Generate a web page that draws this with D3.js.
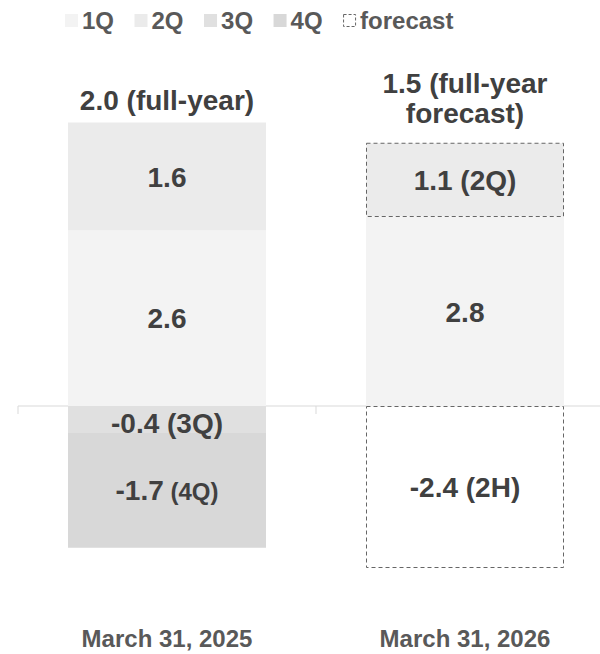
<!DOCTYPE html>
<html>
<head>
<meta charset="utf-8">
<script src="https://cdn.jsdelivr.net/npm/d3@7"></script>
<style>
  html, body { margin: 0; padding: 0; background: #ffffff; }
  svg { display: block; font-family: "Liberation Sans", Arial, sans-serif; font-weight: bold; }
</style>
</head>
<body>
<svg id="chart" width="600" height="654"></svg>
<script>
// Period-end categories
const categories = ["March 31, 2025", "March 31, 2026"];

// Quarterly contributions (positive quarters stack up, negative ones stack down)
const q1 = [2.6, 2.8];
const q2 = [1.6, 1.1];
const q3 = [-0.4, null];
const q4 = [-1.7, null];
const h2 = [null, -2.4];          // second-half forecast (3Q + 4Q combined)

// Which values are forecasts
const q2Forecast = [false, true];
const h2Forecast = [false, true];

// Full-year totals shown above each bar
const totals = [2.0, 1.5];
const totalNotes = ["full-year", "full-year forecast"];

// Legend entries
const legendItems = ["1Q", "2Q", "3Q", "4Q", "forecast"];

const colors = { "1Q": "#f3f3f3", "2Q": "#ebebeb", "3Q": "#e0e0e0", "4Q": "#d8d8d8", "2H": "#ffffff" };
const textDark = "#404040";
const textMid = "#595959";
const dashColor = "#666666";

const svg = d3.select("#chart");
const width = 600;

const x = d3.scaleBand()
  .domain(categories)
  .range([18, 614])
  .paddingInner(100 / 298)
  .paddingOuter(50 / 298);

const y = d3.scaleLinear().domain([-3, 5]).range([608.5, 68.5]);

// Build stacked segments per category
const segments = [];
categories.forEach((cat, i) => {
  let pos = 0, neg = 0;
  const add = (key, v, forecast) => {
    if (v == null) return;
    let y0, y1;
    if (v >= 0) { y0 = pos; y1 = pos + v; pos = y1; }
    else { y0 = neg; y1 = neg + v; neg = y1; }
    segments.push({ cat, key, value: v, y0, y1, forecast });
  };
  add("1Q", q1[i], false);
  add("2Q", q2[i], q2Forecast[i]);
  add("3Q", q3[i], false);
  add("4Q", q4[i], false);
  add("2H", h2[i], h2Forecast[i]);
});

// Zero line with category boundary ticks
const gAxis = svg.append("g");
gAxis.append("line")
  .attr("x1", x.range()[0]).attr("x2", width)
  .attr("y1", y(0)).attr("y2", y(0))
  .attr("stroke", "#d9d9d9").attr("stroke-width", 1);
const boundaries = categories.map(c => x(c) - x.step() * x.paddingInner() / 2);
gAxis.selectAll("line.tick").data(boundaries).join("line")
  .attr("class", "tick")
  .attr("x1", d => d).attr("x2", d => d)
  .attr("y1", y(0)).attr("y2", y(0) + 8)
  .attr("stroke", "#d9d9d9").attr("stroke-width", 1);

// Bars
const gBars = svg.append("g");
gBars.selectAll("rect").data(segments).join("rect")
  .attr("x", d => x(d.cat) + (d.forecast ? 0.5 : 0))
  .attr("width", d => x.bandwidth() - (d.forecast ? 1 : 0))
  .attr("y", d => y(Math.max(d.y0, d.y1)) + (d.forecast ? 0.5 : 0))
  .attr("height", d => Math.abs(y(d.y0) - y(d.y1)) - (d.forecast ? 1 : 0))
  .attr("fill", d => colors[d.key])
  .attr("stroke", d => d.forecast ? dashColor : "none")
  .attr("stroke-width", 1)
  .attr("stroke-dasharray", d => d.forecast ? "4,3" : null);

// Segment value labels
const labelSize = 28;
const gLabels = svg.append("g");
segments.forEach(d => {
  const top = y(Math.max(d.y0, d.y1));
  const bottom = y(Math.min(d.y0, d.y1));
  const base = Math.max((top + bottom) / 2 + labelSize * 0.36, top + labelSize * 0.72 + 7);
  const t = gLabels.append("text")
    .attr("x", x(d.cat) + x.bandwidth() / 2)
    .attr("y", base)
    .attr("text-anchor", "middle")
    .attr("fill", textDark)
    .attr("font-size", labelSize);
  t.append("tspan").text(d.value.toFixed(1));
  if (d.value < 0 || d.forecast) {
    t.append("tspan")
      .attr("font-size", d.key === "4Q" ? 24 : labelSize)
      .text(" (" + d.key + ")");
  }
});

// Totals above the bars, wrapped to the bar width
const gTotals = svg.append("g");
categories.forEach((cat, i) => {
  const words = `${totals[i].toFixed(1)} (${totalNotes[i]})`.split(" ");
  const t = gTotals.append("text")
    .attr("text-anchor", "middle")
    .attr("fill", textDark)
    .attr("font-size", 28);
  const lines = [];
  let line = [];
  const probe = t.append("tspan");
  words.forEach(w => {
    const trial = line.concat(w).join(" ");
    probe.text(trial);
    if (probe.node().getComputedTextLength() > x.bandwidth() && line.length) {
      lines.push(line.join(" "));
      line = [w];
    } else {
      line.push(w);
    }
  });
  lines.push(line.join(" "));
  probe.remove();
  const barTop = y(d3.sum(segments.filter(s => s.cat === cat && s.value > 0), s => s.value));
  const lastBase = barTop - 12.5 - 7.5 * (lines.length - 1);
  lines.forEach((ln, k) => {
    t.append("tspan")
      .attr("x", x(cat) + x.bandwidth() / 2)
      .attr("y", lastBase - 30 * (lines.length - 1 - k))
      .text(ln);
  });
});

// Category labels
svg.append("g").selectAll("text").data(categories).join("text")
  .attr("x", d => x(d) + x.bandwidth() / 2)
  .attr("y", 647)
  .attr("text-anchor", "middle")
  .attr("fill", textMid)
  .attr("font-size", 24)
  .text(d => d);

// Legend
const gLegend = svg.append("g").attr("transform", "translate(65,14)");
let lx = 0;
legendItems.forEach(item => {
  const g = gLegend.append("g").attr("transform", `translate(${lx},0)`);
  if (item === "forecast") {
    g.append("rect").attr("x", 0.5).attr("y", 0.5).attr("width", 12).attr("height", 12)
      .attr("fill", "#ffffff").attr("stroke", dashColor).attr("stroke-dasharray", "3,2");
  } else {
    g.append("rect").attr("width", 13).attr("height", 13).attr("fill", colors[item]);
  }
  const txt = g.append("text")
    .attr("x", 17).attr("y", 15)
    .attr("fill", textMid)
    .attr("font-size", 24)
    .text(item);
  lx += 17 + txt.node().getComputedTextLength() + 20.5;
});
</script>
</body>
</html>
